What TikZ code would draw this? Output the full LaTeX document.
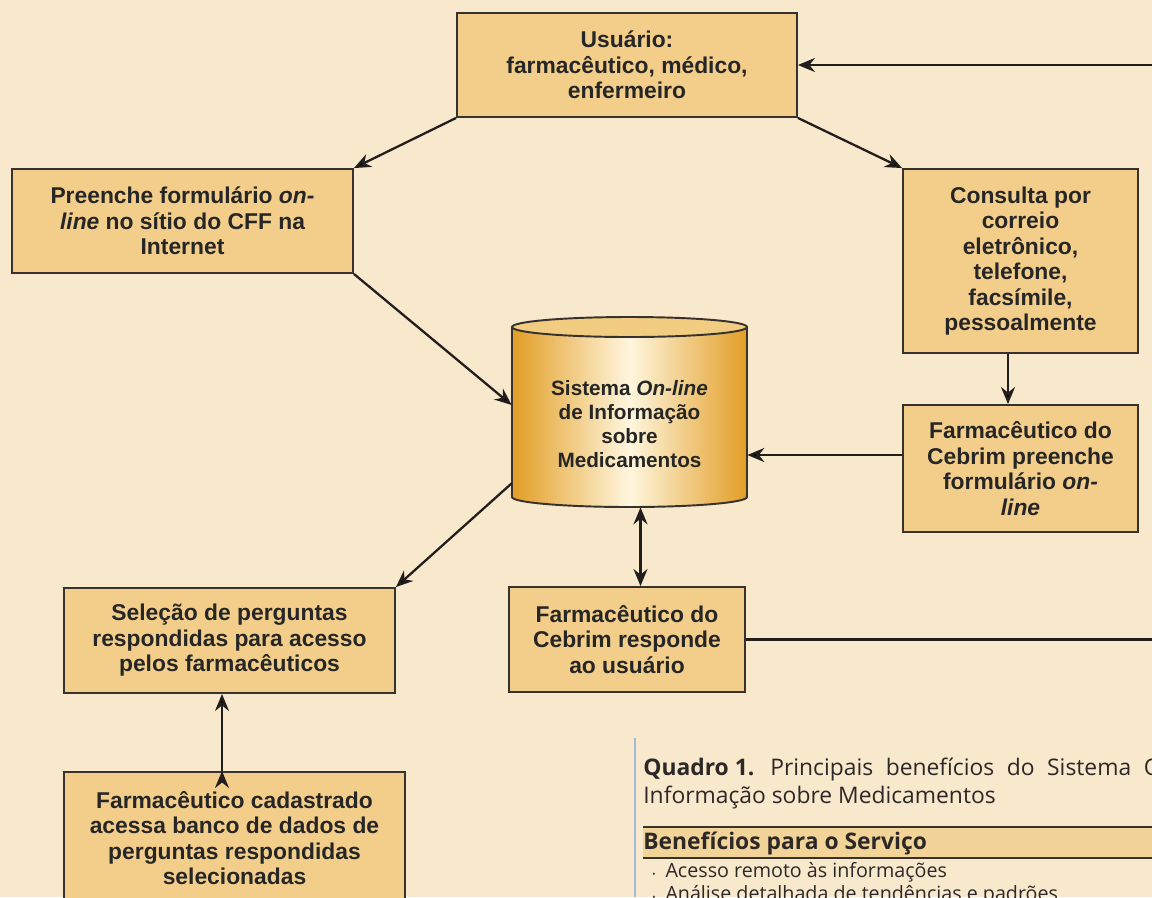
\documentclass[tikz,border=0pt]{standalone}
\usepackage{fontspec}
\setmainfont{Liberation Sans}
\newfontfamily\captfont{Open Sans}
\usetikzlibrary{arrows.meta}
\definecolor{pagebg}{RGB}{248,232,204}
\definecolor{boxfill}{RGB}{243,206,138}
\definecolor{boxline}{RGB}{55,50,45}
\definecolor{arrowcol}{RGB}{35,30,30}
\definecolor{cylside}{RGB}{226,158,38}
\definecolor{cyllight}{RGB}{255,246,222}
\definecolor{cyltop}{RGB}{242,204,128}
\definecolor{hdrfill}{RGB}{243,212,152}
\definecolor{captcol}{RGB}{45,40,40}
\definecolor{rulecol}{RGB}{160,186,214}

\begin{document}
\begin{tikzpicture}[x=0.02cm,y=0.02cm,>={Stealth[length=0.34cm,width=0.28cm]},
    box node/.style={draw=boxline,line width=1.1pt,fill=boxfill,align=center,
      inner sep=2pt,text=black!85,font=\bfseries\fontsize{13}{14.5}\selectfont},
    cyl node/.style={align=center,inner sep=0pt,text=black!85,
      font=\bfseries\fontsize{11.8}{13.6}\selectfont},
    link/.style={draw=arrowcol,line width=1.3pt},
    capt/.style={text=captcol,inner sep=0pt,font=\captfont\fontsize{13}{15.9}\selectfont}]

  \useasboundingbox (0,0) rectangle (1152,-897);
  \clip (0,0) rectangle (1152,-897);
  \fill[pagebg] (0,0) rectangle (1152,-897);

  % cylinder
  \shade[left color=cylside,right color=cylside,middle color=cyllight]
    (512,-327) -- (512,-497) arc[start angle=180,end angle=360,x radius=2.35cm,y radius=0.2cm]
    -- (747,-327) -- cycle;
  \draw[boxline,line width=1.1pt] (512,-327) -- (512,-497)
    arc[start angle=180,end angle=360,x radius=2.35cm,y radius=0.2cm] -- (747,-327);
  \draw[boxline,line width=1.1pt,fill=cyltop] (629.5,-327) ellipse[x radius=2.35cm,y radius=0.2cm];

  \node[box node,minimum width=6.8cm,minimum height=2.08cm] (usr) at (627,-65)
    {Usuário:\\farmacêutico, médico,\\enfermeiro};
  \node[box node,minimum width=6.82cm,minimum height=2.08cm] (pre) at (182.5,-221)
    {Preenche formulário \textit{on-}\\\textit{line} no sítio do CFF na\\Internet};
  \node[box node,minimum width=4.7cm,minimum height=3.68cm] (con) at (1020.5,-261)
    {Consulta por\\correio\\eletrônico,\\telefone,\\facsímile,\\pessoalmente};
  \node[box node,minimum width=4.7cm,minimum height=2.54cm] (cpf) at (1020.5,-468.5)
    {Farmacêutico do\\Cebrim preenche\\formulário \textit{on-}\\\textit{line}};
  \node[cyl node,minimum width=4.7cm,minimum height=3.32cm] (sis) at (629.5,-424)
    {Sistema \textit{On-line}\\de Informação\\sobre\\Medicamentos};
  \node[box node,minimum width=6.62cm,minimum height=2.1cm] (sel) at (229.5,-640.5)
    {Seleção de perguntas\\respondidas para acesso\\pelos farmacêuticos};
  \node[box node,minimum width=4.72cm,minimum height=2.1cm] (res) at (627,-639.5)
    {Farmacêutico do\\Cebrim responde\\ao usuário};
  \node[box node,anchor=north,minimum width=6.82cm,minimum height=2.64cm] (cad) at (234.5,-771)
    {Farmacêutico cadastrado\\acessa banco de dados de\\perguntas respondidas\\selecionadas};

  \coordinate (back) at (1170,-639.5);

  \path[link,->]
    (usr.south west) edge (pre.north east)
    (usr.south east) edge (con.north west)
    (pre.south east) edge ([yshift=0.38cm]sis.west)
    ([xshift=-0.25cm]con.south) edge ([xshift=-0.25cm]cpf.north)
    ([yshift=0.27cm]cpf.west) edge ([yshift=0.27cm]cpf.west -| sis.east)
    ([yshift=0.48cm]sis.south west) edge (sel.north east)
    ([xshift=-0.25cm]cad.north) edge ([xshift=-0.25cm]cad.north |- sel.south);
  \draw[link,<->] ([xshift=0.22cm]sis.south) -- ([xshift=0.22cm]sis.south |- res.north);
  \draw[link,->] (res.east) -- (back) |- (usr.east);

  % caption of the table beside
  \draw[rulecol,line width=0.6pt] (635,-738) -- (635,-897);
  \node[capt,anchor=base west] (qd1) at (643,-775)
    {\textbf{Quadro 1.}\hspace{0.7em}Principais\hspace{0.55em}benefícios\hspace{0.55em}do\hspace{0.55em}Sistema\hspace{0.55em}O};
  \node[capt,anchor=base west] (qd2) at (643,-803) {Informação sobre Medicamentos};
  \fill[hdrfill] (643,-827) rectangle (1152,-858);
  \draw[boxline,line width=1.1pt] (643,-827) -- (1152,-827);
  \draw[boxline,line width=0.6pt] (643,-858) -- (1152,-858);
  \node[capt,anchor=base west,font=\captfont\bfseries\fontsize{13}{15}\selectfont] (hdr) at (643,-849)
    {Benefícios para o Serviço};
  \node[capt,anchor=base west,font=\captfont\fontsize{11.2}{13}\selectfont] (bl1) at (652,-877)
    {{\tiny\textbullet}\hspace{0.5em}Acesso remoto às informações};
  \node[capt,anchor=base west,font=\captfont\fontsize{11.2}{13}\selectfont] (bl2) at (652,-900)
    {{\tiny\textbullet}\hspace{0.5em}Análise detalhada de tendências e padrões};
\end{tikzpicture}
\end{document}
